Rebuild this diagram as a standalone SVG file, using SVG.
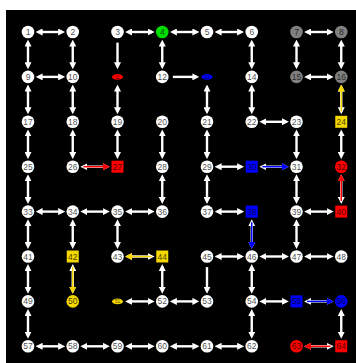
<svg xmlns="http://www.w3.org/2000/svg" xmlns:xlink="http://www.w3.org/1999/xlink" width="356" height="363" viewBox="0 0 356 363">
<style>
.e{stroke:#fff;stroke-width:2.4;fill:none}
.d{marker-start:url(#aw);marker-end:url(#aw)}
.s{marker-end:url(#aw)}
.o{stroke-width:1.5;fill:none}
.n circle,.n rect,.n ellipse{stroke:none}
.w{fill:#fff}
.g{fill:#808080}
.grn{fill:#00e000}
.red{fill:#ff0000}
.blu{fill:#0000ff}
.yel{fill:#f5d800}
text{font-family:"Liberation Sans",Arial,sans-serif;font-size:8.5px;text-anchor:middle;fill:#000;fill-opacity:0.72}
text.t{font-size:4.5px}
</style>
<defs>
<marker id="aw" viewBox="0 0 7 7" refX="4" refY="3.5" markerWidth="7" markerHeight="7" markerUnits="userSpaceOnUse" orient="auto-start-reverse"><path d="M0,0L7,3.5L0,7z" fill="#fff"/></marker>
<marker id="ar" viewBox="0 0 7 7" refX="4" refY="3.5" markerWidth="7" markerHeight="7" markerUnits="userSpaceOnUse" orient="auto"><path d="M0,0L7,3.5L0,7z" fill="#ff0000"/></marker>
<marker id="ab" viewBox="0 0 7 7" refX="4" refY="3.5" markerWidth="7" markerHeight="7" markerUnits="userSpaceOnUse" orient="auto"><path d="M0,0L7,3.5L0,7z" fill="#0000ff"/></marker>
<marker id="ay" viewBox="0 0 7 7" refX="4" refY="3.5" markerWidth="7" markerHeight="7" markerUnits="userSpaceOnUse" orient="auto"><path d="M0,0L7,3.5L0,7z" fill="#f5d800"/></marker>
<line id="h" class="e d" x1="10.6" y1="0" x2="34.15" y2="0"/>
<line id="v" class="e d" x1="0" y1="10.6" x2="0" y2="34.3"/>
<line id="hs" class="e s" x1="10.6" y1="0" x2="34.15" y2="0"/>
<line id="vs" class="e s" x1="0" y1="10.6" x2="0" y2="34.3"/>
</defs>
<rect x="0" y="0" width="356" height="363" fill="#fff"/>
<rect x="6" y="10" width="350" height="353" fill="#000"/>
<g id="connectors">
<use href="#h" x="28" y="32"/>
<use href="#h" x="117.5" y="32"/>
<use href="#h" x="162.25" y="32"/>
<use href="#h" x="207" y="32"/>
<use href="#h" x="296.5" y="32"/>
<use href="#h" x="28" y="76.9"/>
<use href="#hs" x="162.25" y="76.9"/>
<use href="#h" x="296.5" y="76.9"/>
<use href="#h" x="251.75" y="121.8"/>
<use href="#h" x="72.75" y="166.7"/>
<use href="#h" x="207" y="166.7"/>
<use href="#h" x="251.75" y="166.7"/>
<use href="#h" x="28" y="211.6"/>
<use href="#h" x="72.75" y="211.6"/>
<use href="#h" x="117.5" y="211.6"/>
<use href="#h" x="207" y="211.6"/>
<use href="#h" x="296.5" y="211.6"/>
<use href="#h" x="117.5" y="256.5"/>
<use href="#h" x="207" y="256.5"/>
<use href="#h" x="251.75" y="256.5"/>
<use href="#h" x="296.5" y="256.5"/>
<use href="#h" x="117.5" y="301.4"/>
<use href="#h" x="162.25" y="301.4"/>
<use href="#h" x="251.75" y="301.4"/>
<use href="#h" x="296.5" y="301.4"/>
<use href="#h" x="28" y="346.3"/>
<use href="#h" x="72.75" y="346.3"/>
<use href="#h" x="117.5" y="346.3"/>
<use href="#h" x="162.25" y="346.3"/>
<use href="#h" x="207" y="346.3"/>
<use href="#h" x="296.5" y="346.3"/>
<use href="#v" x="28" y="32"/>
<use href="#v" x="72.75" y="32"/>
<use href="#vs" x="117.5" y="32"/>
<use href="#v" x="162.25" y="32"/>
<use href="#v" x="251.75" y="32"/>
<use href="#v" x="296.5" y="32"/>
<use href="#v" x="341.25" y="32"/>
<use href="#v" x="28" y="76.9"/>
<use href="#v" x="72.75" y="76.9"/>
<use href="#v" x="117.5" y="76.9"/>
<use href="#v" x="207" y="76.9"/>
<use href="#v" x="251.75" y="76.9"/>
<use href="#v" x="341.25" y="76.9"/>
<use href="#v" x="28" y="121.8"/>
<use href="#v" x="72.75" y="121.8"/>
<use href="#v" x="117.5" y="121.8"/>
<use href="#v" x="162.25" y="121.8"/>
<use href="#v" x="207" y="121.8"/>
<use href="#v" x="296.5" y="121.8"/>
<use href="#v" x="341.25" y="121.8"/>
<use href="#v" x="28" y="166.7"/>
<use href="#v" x="162.25" y="166.7"/>
<use href="#v" x="207" y="166.7"/>
<use href="#v" x="296.5" y="166.7"/>
<use href="#v" x="341.25" y="166.7"/>
<use href="#v" x="28" y="211.6"/>
<use href="#v" x="72.75" y="211.6"/>
<use href="#v" x="117.5" y="211.6"/>
<use href="#v" x="251.75" y="211.6"/>
<use href="#v" x="296.5" y="211.6"/>
<use href="#v" x="28" y="256.5"/>
<use href="#v" x="72.75" y="256.5"/>
<use href="#v" x="162.25" y="256.5"/>
<use href="#vs" x="207" y="256.5"/>
<use href="#v" x="251.75" y="256.5"/>
<use href="#v" x="28" y="301.4"/>
<use href="#v" x="251.75" y="301.4"/>
<use href="#v" x="341.25" y="301.4"/>
<line class="o" stroke="#ff0000" marker-end="url(#ar)" x1="83.35" y1="166.7" x2="106.9" y2="166.7"/>
<line class="o" stroke="#0000ff" marker-end="url(#ab)" x1="262.35" y1="166.7" x2="285.9" y2="166.7"/>
<line class="o" stroke="#f5d800" marker-end="url(#ay)" x1="151.65" y1="256.5" x2="128.1" y2="256.5"/>
<line class="o" stroke="#0000ff" marker-end="url(#ab)" x1="307.1" y1="301.4" x2="330.65" y2="301.4"/>
<line class="o" stroke="#ff0000" marker-end="url(#ar)" x1="330.65" y1="346.3" x2="307.1" y2="346.3"/>
<line class="o" stroke="#f5d800" marker-end="url(#ay)" x1="341.25" y1="111.2" x2="341.25" y2="87.5"/>
<line class="o" stroke="#ff0000" marker-end="url(#ar)" x1="341.25" y1="201" x2="341.25" y2="177.3"/>
<line class="o" stroke="#0000ff" marker-end="url(#ab)" x1="251.75" y1="222.2" x2="251.75" y2="245.9"/>
<line class="o" stroke="#f5d800" marker-end="url(#ay)" x1="72.75" y1="267.1" x2="72.75" y2="290.8"/>
</g>
<g class="n">
<g id="n1"><circle class="w" cx="28" cy="32" r="6.3"/><text x="28" y="35">1</text></g>
<g id="n2"><circle class="w" cx="72.75" cy="32" r="6.3"/><text x="72.75" y="35">2</text></g>
<g id="n3"><circle class="w" cx="117.5" cy="32" r="6.3"/><text x="117.5" y="35">3</text></g>
<g id="n4"><circle class="grn" cx="162.25" cy="32" r="6.3"/><text x="162.25" y="35">4</text></g>
<g id="n5"><circle class="w" cx="207" cy="32" r="6.3"/><text x="207" y="35">5</text></g>
<g id="n6"><circle class="w" cx="251.75" cy="32" r="6.3"/><text x="251.75" y="35">6</text></g>
<g id="n7"><circle class="g" cx="296.5" cy="32" r="6.3"/><text x="296.5" y="35">7</text></g>
<g id="n8"><circle class="g" cx="341.25" cy="32" r="6.3"/><text x="341.25" y="35">8</text></g>
<g id="n9"><circle class="w" cx="28" cy="76.9" r="6.3"/><text x="28" y="79.9">9</text></g>
<g id="n10"><circle class="w" cx="72.75" cy="76.9" r="6.3"/><text x="72.75" y="79.9">10</text></g>
<g id="n11"><ellipse class="red" cx="117.5" cy="76.9" rx="5.5" ry="2.8"/><text class="t" x="117.5" y="78.5">11</text></g>
<g id="n12"><circle class="w" cx="162.25" cy="76.9" r="6.3"/><text x="162.25" y="79.9">12</text></g>
<g id="n13"><ellipse class="blu" cx="207" cy="76.9" rx="5.5" ry="2.8"/><text class="t" x="207" y="78.5">13</text></g>
<g id="n14"><circle class="w" cx="251.75" cy="76.9" r="6.3"/><text x="251.75" y="79.9">14</text></g>
<g id="n15"><circle class="g" cx="296.5" cy="76.9" r="6.3"/><text x="296.5" y="79.9">15</text></g>
<g id="n16"><circle class="g" cx="341.25" cy="76.9" r="6.3"/><text x="341.25" y="79.9">16</text></g>
<g id="n17"><circle class="w" cx="28" cy="121.8" r="6.3"/><text x="28" y="124.8">17</text></g>
<g id="n18"><circle class="w" cx="72.75" cy="121.8" r="6.3"/><text x="72.75" y="124.8">18</text></g>
<g id="n19"><circle class="w" cx="117.5" cy="121.8" r="6.3"/><text x="117.5" y="124.8">19</text></g>
<g id="n20"><circle class="w" cx="162.25" cy="121.8" r="6.3"/><text x="162.25" y="124.8">20</text></g>
<g id="n21"><circle class="w" cx="207" cy="121.8" r="6.3"/><text x="207" y="124.8">21</text></g>
<g id="n22"><circle class="w" cx="251.75" cy="121.8" r="6.3"/><text x="251.75" y="124.8">22</text></g>
<g id="n23"><circle class="w" cx="296.5" cy="121.8" r="6.3"/><text x="296.5" y="124.8">23</text></g>
<g id="n24"><rect class="yel" x="335.25" y="115.8" width="12" height="12"/><text x="341.25" y="124.8">24</text></g>
<g id="n25"><circle class="w" cx="28" cy="166.7" r="6.3"/><text x="28" y="169.7">25</text></g>
<g id="n26"><circle class="w" cx="72.75" cy="166.7" r="6.3"/><text x="72.75" y="169.7">26</text></g>
<g id="n27"><rect class="red" x="111.5" y="160.7" width="12" height="12"/><text x="117.5" y="169.7">27</text></g>
<g id="n28"><circle class="w" cx="162.25" cy="166.7" r="6.3"/><text x="162.25" y="169.7">28</text></g>
<g id="n29"><circle class="w" cx="207" cy="166.7" r="6.3"/><text x="207" y="169.7">29</text></g>
<g id="n30"><rect class="blu" x="245.75" y="160.7" width="12" height="12"/><text x="251.75" y="169.7">30</text></g>
<g id="n31"><circle class="w" cx="296.5" cy="166.7" r="6.3"/><text x="296.5" y="169.7">31</text></g>
<g id="n32"><circle class="red" cx="341.25" cy="166.7" r="6.3"/><text x="341.25" y="169.7">32</text></g>
<g id="n33"><circle class="w" cx="28" cy="211.6" r="6.3"/><text x="28" y="214.6">33</text></g>
<g id="n34"><circle class="w" cx="72.75" cy="211.6" r="6.3"/><text x="72.75" y="214.6">34</text></g>
<g id="n35"><circle class="w" cx="117.5" cy="211.6" r="6.3"/><text x="117.5" y="214.6">35</text></g>
<g id="n36"><circle class="w" cx="162.25" cy="211.6" r="6.3"/><text x="162.25" y="214.6">36</text></g>
<g id="n37"><circle class="w" cx="207" cy="211.6" r="6.3"/><text x="207" y="214.6">37</text></g>
<g id="n38"><rect class="blu" x="245.75" y="205.6" width="12" height="12"/><text x="251.75" y="214.6">38</text></g>
<g id="n39"><circle class="w" cx="296.5" cy="211.6" r="6.3"/><text x="296.5" y="214.6">39</text></g>
<g id="n40"><rect class="red" x="335.25" y="205.6" width="12" height="12"/><text x="341.25" y="214.6">40</text></g>
<g id="n41"><circle class="w" cx="28" cy="256.5" r="6.3"/><text x="28" y="259.5">41</text></g>
<g id="n42"><rect class="yel" x="66.75" y="250.5" width="12" height="12"/><text x="72.75" y="259.5">42</text></g>
<g id="n43"><circle class="w" cx="117.5" cy="256.5" r="6.3"/><text x="117.5" y="259.5">43</text></g>
<g id="n44"><rect class="yel" x="156.25" y="250.5" width="12" height="12"/><text x="162.25" y="259.5">44</text></g>
<g id="n45"><circle class="w" cx="207" cy="256.5" r="6.3"/><text x="207" y="259.5">45</text></g>
<g id="n46"><circle class="w" cx="251.75" cy="256.5" r="6.3"/><text x="251.75" y="259.5">46</text></g>
<g id="n47"><circle class="w" cx="296.5" cy="256.5" r="6.3"/><text x="296.5" y="259.5">47</text></g>
<g id="n48"><circle class="w" cx="341.25" cy="256.5" r="6.3"/><text x="341.25" y="259.5">48</text></g>
<g id="n49"><circle class="w" cx="28" cy="301.4" r="6.3"/><text x="28" y="304.4">49</text></g>
<g id="n50"><circle class="yel" cx="72.75" cy="301.4" r="6.3"/><text x="72.75" y="304.4">50</text></g>
<g id="n51"><ellipse class="yel" cx="117.5" cy="301.4" rx="5.5" ry="2.8"/><text class="t" x="117.5" y="303">51</text></g>
<g id="n52"><circle class="w" cx="162.25" cy="301.4" r="6.3"/><text x="162.25" y="304.4">52</text></g>
<g id="n53"><circle class="w" cx="207" cy="301.4" r="6.3"/><text x="207" y="304.4">53</text></g>
<g id="n54"><circle class="w" cx="251.75" cy="301.4" r="6.3"/><text x="251.75" y="304.4">54</text></g>
<g id="n55"><rect class="blu" x="290.5" y="295.4" width="12" height="12"/><text x="296.5" y="304.4">55</text></g>
<g id="n56"><circle class="blu" cx="341.25" cy="301.4" r="6.3"/><text x="341.25" y="304.4">56</text></g>
<g id="n57"><circle class="w" cx="28" cy="346.3" r="6.3"/><text x="28" y="349.3">57</text></g>
<g id="n58"><circle class="w" cx="72.75" cy="346.3" r="6.3"/><text x="72.75" y="349.3">58</text></g>
<g id="n59"><circle class="w" cx="117.5" cy="346.3" r="6.3"/><text x="117.5" y="349.3">59</text></g>
<g id="n60"><circle class="w" cx="162.25" cy="346.3" r="6.3"/><text x="162.25" y="349.3">60</text></g>
<g id="n61"><circle class="w" cx="207" cy="346.3" r="6.3"/><text x="207" y="349.3">61</text></g>
<g id="n62"><circle class="w" cx="251.75" cy="346.3" r="6.3"/><text x="251.75" y="349.3">62</text></g>
<g id="n63"><circle class="red" cx="296.5" cy="346.3" r="6.3"/><text x="296.5" y="349.3">63</text></g>
<g id="n64"><rect class="red" x="335.25" y="340.3" width="12" height="12"/><text x="341.25" y="349.3">64</text></g>
</g>
</svg>
